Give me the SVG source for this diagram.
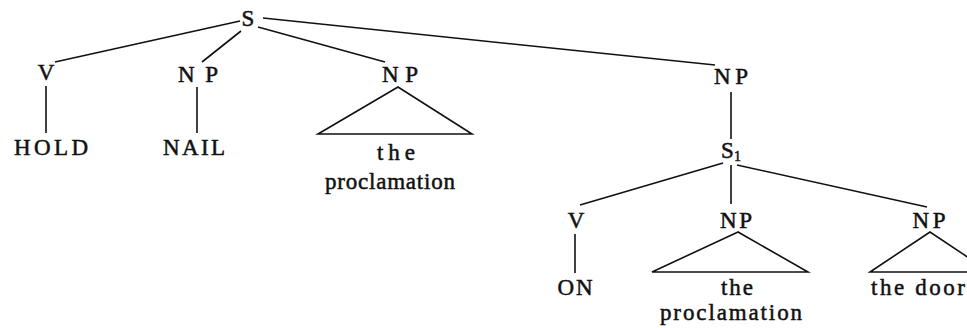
<svg xmlns="http://www.w3.org/2000/svg" width="967" height="328" viewBox="0 0 967 328">
<style>
text{font-family:"Liberation Serif","Times New Roman",serif;font-size:23px;fill:#111;stroke:#111;stroke-width:0.5;text-anchor:middle}
.e{stroke:#111;stroke-width:1.6;fill:none}
</style>
<rect width="967" height="328" fill="#fff"/>
<g id="connectors">
<line class="e" x1="240" y1="21" x2="55" y2="62"/>
<line class="e" x1="241" y1="31" x2="202" y2="62"/>
<line class="e" x1="258" y1="27" x2="385" y2="62"/>
<line class="e" x1="263" y1="18" x2="715" y2="65"/>
<line class="e" x1="46" y1="86" x2="46" y2="133"/>
<line class="e" x1="197" y1="87" x2="197" y2="133"/>
<line class="e" x1="731" y1="92" x2="731" y2="139"/>
<line class="e" x1="723" y1="163" x2="580" y2="205"/>
<line class="e" x1="731" y1="165" x2="731" y2="204"/>
<line class="e" x1="737" y1="165" x2="927" y2="207"/>
<line class="e" x1="575" y1="234" x2="575" y2="273"/>
</g>
<g id="S"><text x="248" y="26">S</text></g>
<g id="V1"><text x="46" y="80">V</text></g>
<g id="HOLD"><text x="51" y="155" textLength="74" lengthAdjust="spacing">HOLD</text></g>
<g id="NP1"><text x="198" y="82" textLength="40" lengthAdjust="spacing">NP</text></g>
<g id="NAIL"><text x="194" y="155" textLength="62" lengthAdjust="spacing">NAIL</text></g>
<g id="NP2"><text x="400" y="82" textLength="36" lengthAdjust="spacing">NP</text>
<polygon class="e" points="398,87 318,134 472,134"/>
<text x="396" y="160" textLength="38" lengthAdjust="spacing">the</text>
<text x="390" y="189" textLength="130" lengthAdjust="spacing">proclamation</text></g>
<g id="NP3"><text x="731" y="84" textLength="34" lengthAdjust="spacing">NP</text></g>
<g id="S1"><text x="731" y="158">S<tspan font-size="14" dy="3">1</tspan></text></g>
<g id="V2"><text x="576" y="228">V</text></g>
<g id="ON"><text x="575" y="295" textLength="35" lengthAdjust="spacing">ON</text></g>
<g id="NP4"><text x="736" y="228" textLength="32" lengthAdjust="spacing">NP</text>
<polygon class="e" points="738,232 652,272 808,272"/>
<text x="737" y="295" textLength="32" lengthAdjust="spacing">the</text>
<text x="731" y="320" textLength="142" lengthAdjust="spacing">proclamation</text></g>
<g id="NP5"><text x="929" y="228" textLength="33" lengthAdjust="spacing">NP</text>
<polygon class="e" points="930,232 870,272 990,272"/>
<text x="918" y="295" textLength="94" lengthAdjust="spacing">the door</text></g>
</svg>
